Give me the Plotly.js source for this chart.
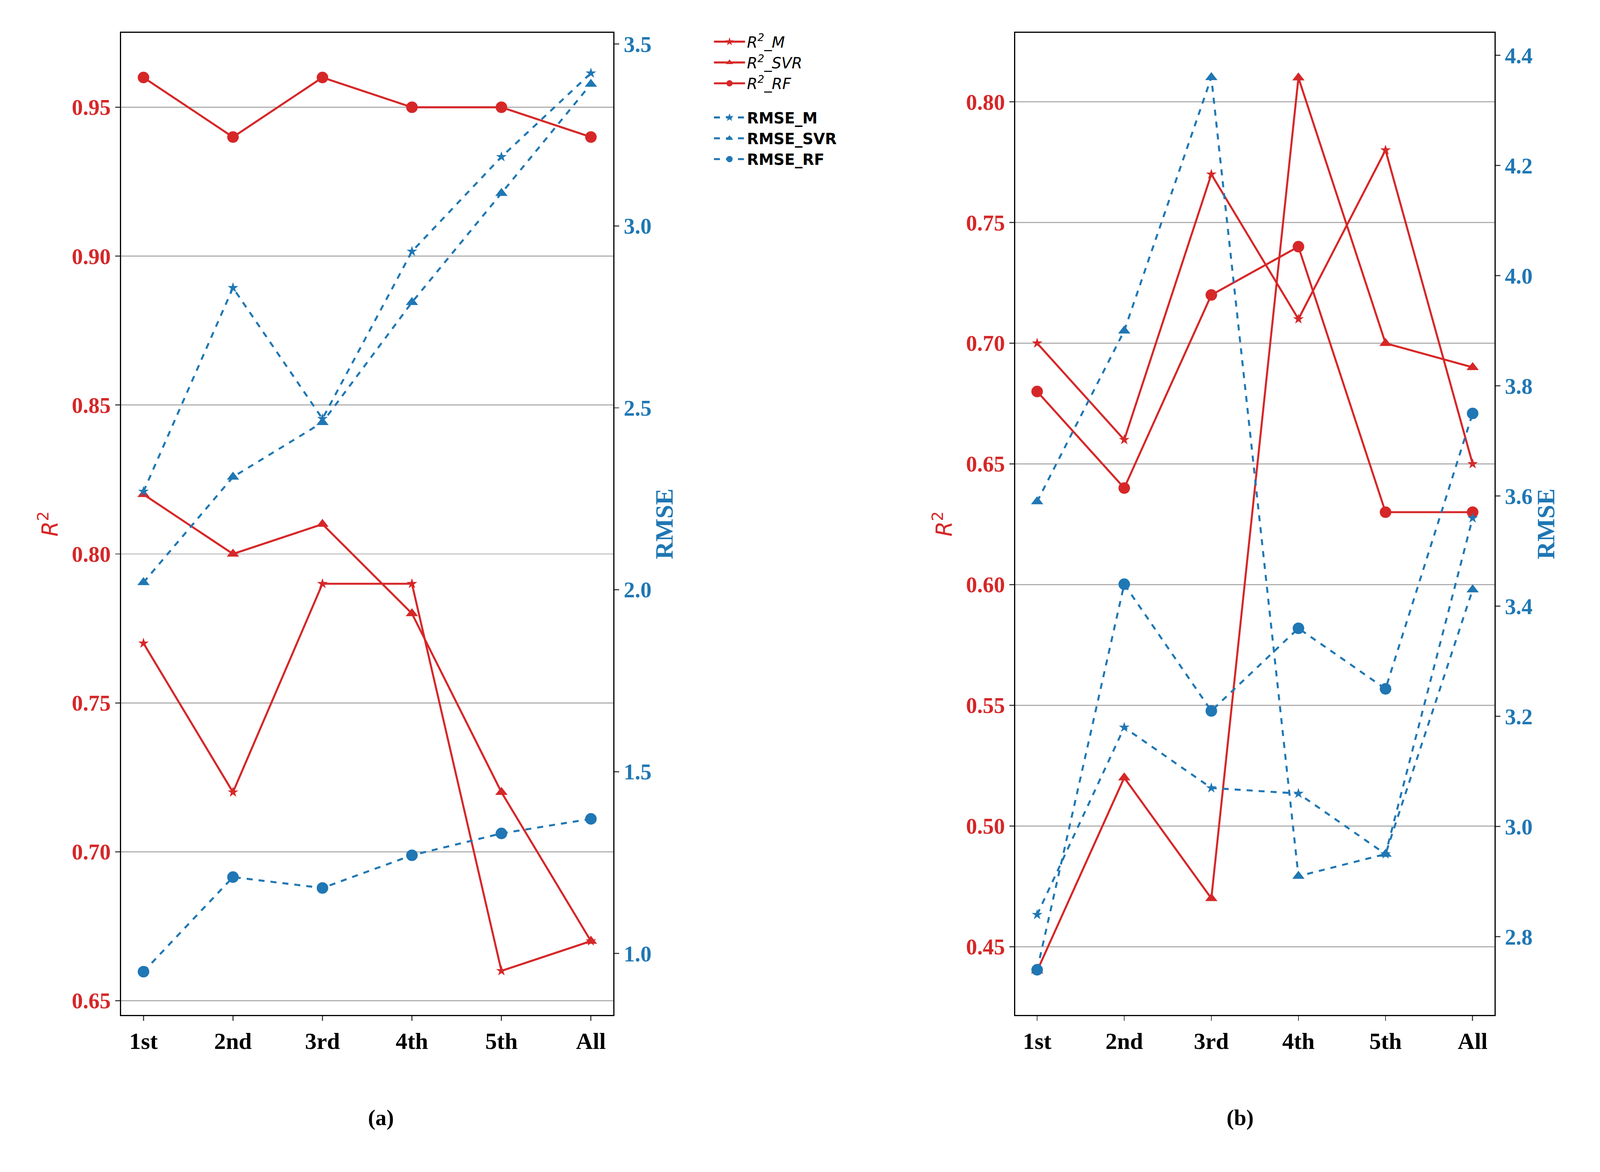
<!DOCTYPE html>
<html><head><meta charset="utf-8">
<script src="https://cdn.plot.ly/plotly-3.0.1.min.js"></script>
<style>html,body{margin:0;padding:0;overflow:hidden}</style></head><body>
<div id="c"></div>
<script>
const cats = ['1st','2nd','3rd','4th','5th','All'];
// panel (a)
const a_R2_M   = [0.77,0.72,0.79,0.79,0.66,0.67];
const a_R2_SVR = [0.82,0.80,0.81,0.78,0.72,0.67];
const a_R2_RF  = [0.96,0.94,0.96,0.95,0.95,0.94];
const a_RMSE_M   = [2.27,2.83,2.47,2.93,3.19,3.42];
const a_RMSE_SVR = [2.02,2.31,2.46,2.79,3.09,3.39];
const a_RMSE_RF  = [0.95,1.21,1.18,1.27,1.33,1.37];
// panel (b)
const b_R2_M   = [0.70,0.66,0.77,0.71,0.78,0.65];
const b_R2_SVR = [0.44,0.52,0.47,0.81,0.70,0.69];
const b_R2_RF  = [0.68,0.64,0.72,0.74,0.63,0.63];
const b_RMSE_M   = [2.84,3.18,3.07,3.06,2.95,3.56];
const b_RMSE_SVR = [3.59,3.90,4.36,2.91,2.95,3.43];
const b_RMSE_RF  = [2.74,3.44,3.21,3.36,3.25,3.75];

const W = window.innerWidth || 7200, H = window.innerHeight || 3000;
const s = Math.min(W/7200, H/3000);
const RED='#d62728', BLUE='#1f77b4';
const sym={M:'star',SVR:'triangle-up',RF:'circle'};
const msz={M:36,SVR:48,RF:52};
function tr(y,xa,ya,kind,m,show){
  const red = kind==='R2';
  return {x:cats,y:y,xaxis:xa,yaxis:ya,type:'scatter',mode:'lines+markers',
    name: red ? '<i>R<sup>2</sup>_'+m+'</i>' : '<b>RMSE_'+m+'</b>',
    legendgroup: kind, showlegend:show,
    line:{color:red?RED:BLUE,width:9*s,dash:red?'solid':'dash'},
    marker:{symbol:sym[m],size:msz[m]*s,color:red?RED:BLUE,line:{width:0}}};
}
const data=[
  tr(a_R2_M,'x','y','R2','M',true), tr(a_R2_SVR,'x','y','R2','SVR',true), tr(a_R2_RF,'x','y','R2','RF',true),
  tr(a_RMSE_M,'x','y2','RMSE','M',true), tr(a_RMSE_SVR,'x','y2','RMSE','SVR',true), tr(a_RMSE_RF,'x','y2','RMSE','RF',true),
  tr(b_R2_M,'x2','y3','R2','M',false), tr(b_R2_SVR,'x2','y3','R2','SVR',false), tr(b_R2_RF,'x2','y3','R2','RF',false),
  tr(b_RMSE_M,'x2','y4','RMSE','M',false), tr(b_RMSE_SVR,'x2','y4','RMSE','SVR',false), tr(b_RMSE_RF,'x2','y4','RMSE','RF',false)
];
const tickF=(c)=>({family:'Liberation Serif',size:100*s,color:c,weight:'bold'});
function xax(dom,anchor){return {domain:dom,anchor:anchor,type:'category',range:[-0.25,5.25],
  showline:true,linecolor:'black',linewidth:5*s,mirror:true,ticks:'outside',ticklen:22*s,tickwidth:5*s,
  tickfont:{family:'Liberation Serif',size:105*s,color:'black',weight:'bold'},showgrid:false,zeroline:false};}
function yl(range,dt,anchor){return {domain:[0.134,0.972],anchor:anchor,range:range,dtick:dt,tickformat:'.2f',
  showline:true,linecolor:'black',linewidth:5*s,ticks:'outside',ticklen:22*s,tickwidth:5*s,
  tickfont:tickF(RED),showgrid:true,gridcolor:'#b0b0b0',gridwidth:5*s,zeroline:false,
  title:{text:'<i>R</i><sup>2</sup>',font:{family:'DejaVu Sans',size:100*s,color:RED},standoff:30*s}};}
function yr(range,dt,tf,anchor,ov){return {overlaying:ov,anchor:anchor,side:'right',range:range,dtick:dt,tickformat:tf,
  showline:true,linecolor:'black',linewidth:5*s,ticks:'outside',ticklen:22*s,tickwidth:5*s,
  tickfont:tickF(BLUE),showgrid:false,zeroline:false,
  title:{text:'<b>RMSE</b>',font:{family:'Liberation Serif',size:110*s,color:BLUE},standoff:20*s}};}
const layout={width:W,height:H,paper_bgcolor:'white',plot_bgcolor:'white',
  margin:{l:0,r:0,t:0,b:0},
  xaxis:xax([0.0757,0.3833],'y'), xaxis2:xax([0.6346,0.934],'y3'),
  yaxis:yl([0.6452,0.975],0.05,'x'),
  yaxis2:yr([0.831,3.531],0.5,'.1f','x','y'),
  yaxis3:yl([0.4217,0.8286],0.05,'x2'),
  yaxis4:yr([2.658,4.441],0.2,'.1f','x2','y3'),
  legend:{x:0.445,y:0.975,xanchor:'left',yanchor:'top',tracegroupgap:60*s,itemwidth:Math.max(30,140*s),
    font:{family:'DejaVu Sans',size:68*s,color:'black'},bgcolor:'rgba(0,0,0,0)'},
  annotations:[
    {text:'<b>(a)</b>',xref:'paper',yref:'paper',x:0.2295,y:0.035,showarrow:false,font:{family:'Liberation Serif',size:100*s,color:'black'}},
    {text:'<b>(b)</b>',xref:'paper',yref:'paper',x:0.7843,y:0.035,showarrow:false,font:{family:'Liberation Serif',size:100*s,color:'black'}}
  ]};
Plotly.newPlot('c',data,layout,{staticPlot:true});
</script></body></html>
